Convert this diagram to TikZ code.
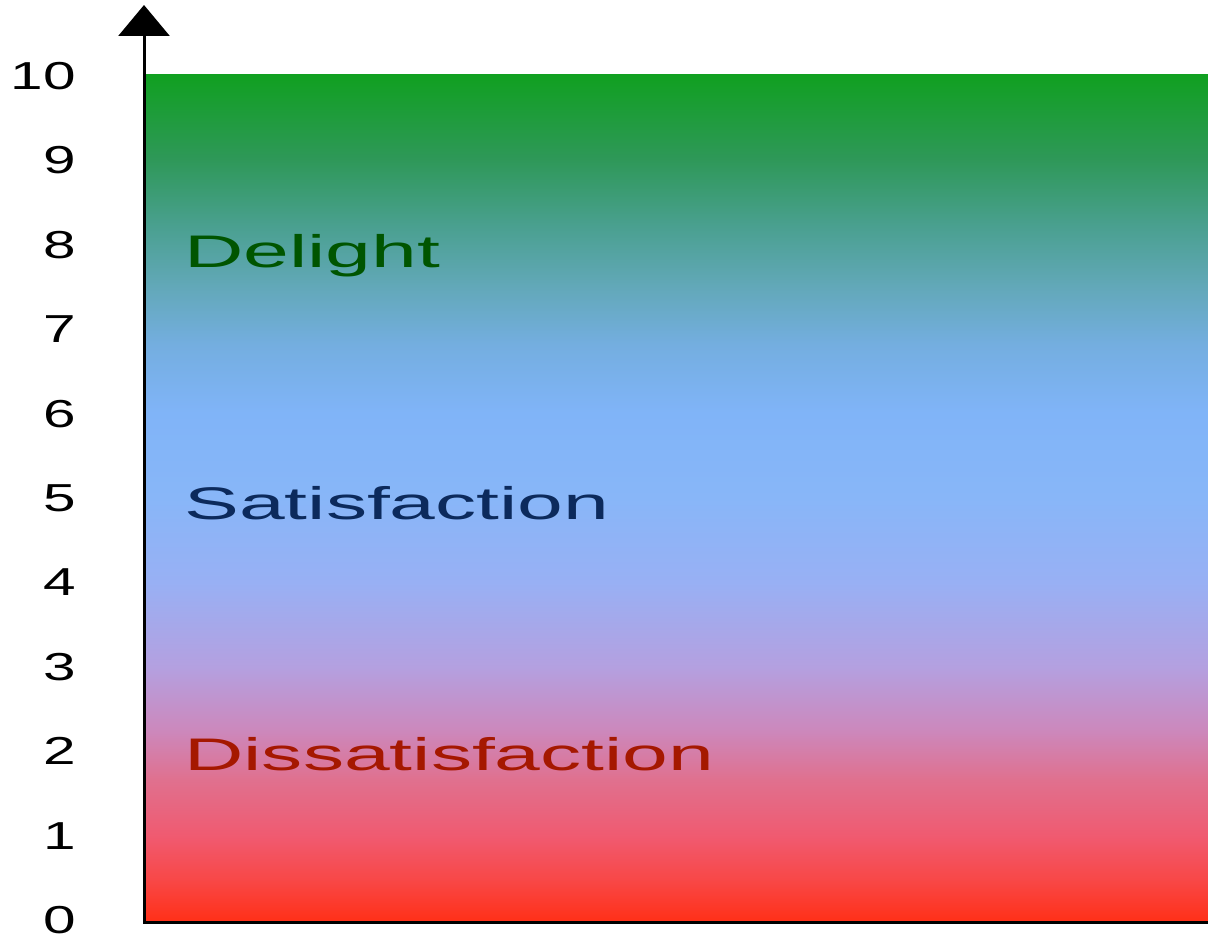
\documentclass[tikz,border=0pt]{standalone}
\usepackage{fontspec}
\usepackage{xcolor}
\usepackage{tikz}
\usetikzlibrary{arrows.meta}

\newfontfamily\tickfont[FakeStretch=1.5]{Liberation Sans}
\newfontfamily\bandfont[FakeStretch=1.8]{Liberation Sans}

\definecolor{delightgreen}{HTML}{005500}
\definecolor{satisblue}{HTML}{0C2A5C}
\definecolor{dissred}{HTML}{A51800}

\definecolor{m00}{HTML}{FF3018}
\definecolor{m05}{HTML}{F84848}
\definecolor{m10}{HTML}{F05A70}
\definecolor{m17}{HTML}{E0708E}
\definecolor{m23}{HTML}{CC88BC}
\definecolor{m30}{HTML}{B4A0E0}
\definecolor{m40}{HTML}{98B0F4}
\definecolor{m50}{HTML}{88B6F8}
\definecolor{m60}{HTML}{80B4F8}
\definecolor{m68}{HTML}{74AEE0}
\definecolor{m75}{HTML}{62A8B8}
\definecolor{m82}{HTML}{4AA090}
\definecolor{m90}{HTML}{2E9858}
\definecolor{m100}{HTML}{10A020}

% red at the bottom, green at the top
\pgfdeclareverticalshading{moodscale}{100bp}{
  color(0bp)=(m00); color(25bp)=(m00); color(27.5bp)=(m05); color(30bp)=(m10);
  color(33.3bp)=(m17); color(36.25bp)=(m23); color(40bp)=(m30); color(45bp)=(m40);
  color(50bp)=(m50); color(55bp)=(m60); color(59bp)=(m68); color(62.5bp)=(m75);
  color(66bp)=(m82); color(70bp)=(m90); color(75bp)=(m100); color(100bp)=(m100)}

\begin{document}
\begin{tikzpicture}[
  x=0.02cm, y=-0.02cm,
  tick/.style={anchor=east, inner sep=0pt, font=\tickfont\fontsize{22.2}{24}\selectfont},
  band/.style={anchor=base west, inner sep=0pt, font=\bandfont\fontsize{26}{28}\selectfont},
  axis/.style={line width=0.06cm, -{Triangle[width=1.02cm, length=0.62cm]}}
]
\useasboundingbox (0,0) rectangle (1208,937);
\shade[shading=moodscale] (145,74) rectangle (1208,921);
\coordinate (origin) at (144,922);
\coordinate (xend) at (1208,922);
\coordinate (ytop) at (144,5);
\draw[axis] (xend) -- (origin) -- (ytop);
\foreach \v in {0,...,10}
  \node[tick] (tick\v) at (76,920-84.4*\v) {\v};
\node[band, text=delightgreen] (delight) at (184,267) {Delight};
\node[band, text=satisblue] (satis) at (184,519) {Satisfaction};
\node[band, text=dissred] (dissatis) at (184,770) {Dissatisfaction};
\end{tikzpicture}
\end{document}
